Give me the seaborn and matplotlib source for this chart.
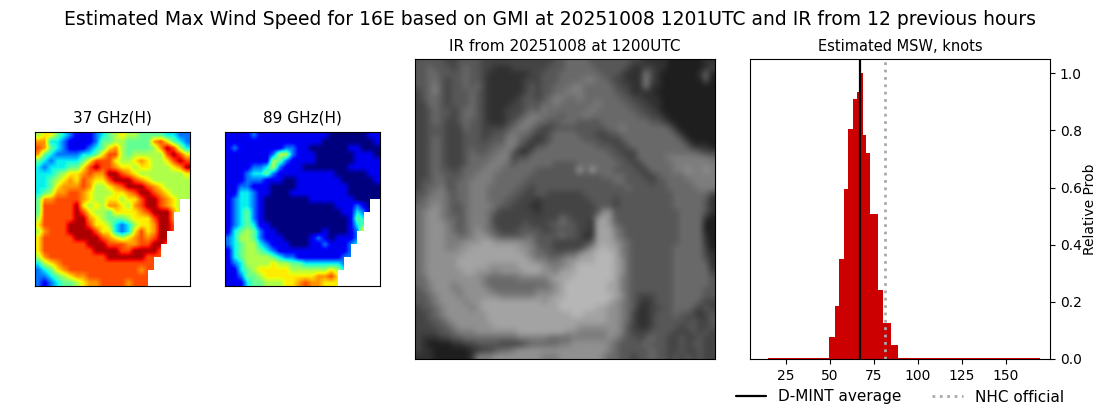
import matplotlib
matplotlib.use('Agg')
import matplotlib.pyplot as plt
import numpy as np
import seaborn as sns

# digit grids, '.' = no data
rows_37 = [
    "566432111234565544443322",
    "773321111244554444786432",
    "874321112346754444579853",
    "743222233468854555558986",
    "432333346888655676556898",
    "323334468988766566555679",
    "333456678779987655555556",
    "334567687668999876555555",
    "334677787556789998765555",
    "345778876555667899876555",
    "477888876556656689987655",
    "48888896565776578998765.",
    "48888898655466667899975.",
    "5888889976544456668997..",
    "6888899986653235667998..",
    "5788899998663236867998..",
    "688888999987656787899...",
    "688888889998887788998...",
    "68888888899998899998....",
    "57888888888999999888....",
    "3567888888888888888.....",
    "2346788888888888788.....",
    "223456778888888888......",
    "212344567788887888......",
]
rows_89 = [
    "111121111111111100000011",
    "111111111111111000000001",
    "121111111221100000011000",
    "111111125521110000001110",
    "111111154211110000001111",
    "111122352111000000011111",
    "111233421111111110000011",
    "111222111001111111000001",
    "112211100001111111100000",
    "113321100011111111100000",
    "123321000000011111110000",
    "12332100000000000111210.",
    "12342100000000000011320.",
    "1234210000000000000143..",
    "1234311000000000000134..",
    "1345421100000001000127..",
    "235542111000012101112...",
    "234553211100011211123...",
    "13455432111111111112....",
    "13455554322111111122....",
    "1235555655443333332.....",
    "1134566666555555653.....",
    "112445666666667786......",
    "111344555667877666......",
]
rows_ir = [
    "3333322333 3222222222 2223344443 3333332211 1100000011",
    "3343332343 3221112222 2233344444 3333321122 1100000012",
    "3344333343 3211111112 2333444444 4333211152 1000000140",
    "3344323343 3211111122 2333444455 4432211152 1000000030",
    "3345323343 4211111123 2334445544 4443221151 1000000000",
    "2345323334 3211111123 2334455544 4443321111 0000000000",
    "2344323334 3211111233 2345544544 4444332211 1000000000",
    "2244323334 3211112233 3445444444 5444433221 1000000000",
    "2234332344 3211122234 3544444445 4444443322 1000000000",
    "2234332344 3211122345 5444344454 4444444332 2100000000",
    "2234322343 3211123455 4433444333 3444444443 3210000000",
    "2233322243 3222234554 3223333333 3344544444 4431000000",
    "2233322233 3223345443 2234444333 2233444444 4443100000",
    "2234322233 3233355432 1234444433 3222344444 4444310000",
    "2234322233 3334455321 3344444444 3332234444 4444431110",
    "2234322234 3344553113 4444444444 4433222444 4444444322",
    "2234322234 4445552334 4444444444 4443322444 4455555554",
    "2234322234 4455543444 4443333444 4444332244 4445555555",
    "2234332344 4555444444 3333333737 4443333224 4445565565",
    "2234433344 5554444443 3333333333 3444433322 3444455555",
    "2334433445 5554444433 3333333333 3334433332 3344445555",
    "2344533445 5544444332 3333333333 3333343333 3344444555",
    "3345543445 5544443322 3322222233 3333333333 3334444442",
    "3455543445 5544433222 1222222223 3332333333 3334444431",
    "4456543345 5554332221 1222222222 3332333333 3334444431",
    "4566543345 5543222222 1222222222 3663333333 3333444431",
    "4566544345 5542222222 2222432222 6763333333 3333444410",
    "4566654345 5542222232 2233433221 7764333333 3333444400",
    "4566654345 6543222333 3223333221 7775433333 3333444400",
    "4566655445 6654333344 3333433211 7775433333 3333444410",
    "4566655566 6776666655 3332222223 7776543333 3333444410",
    "4566655667 7777777665 4332222246 7877543333 3334444420",
    "4566666677 7777777765 4433344677 8887543333 3334444421",
    "4566666777 7777777776 5544566777 8887643333 3334444431",
    "4566666777 7766666777 7655567888 8887643333 3334444441",
    "4566666677 6665666677 7665777888 8887643333 3334444442",
    "4466666666 6544444555 5567778888 8887543333 3334444443",
    "4456665666 6544444444 4456788888 8877543333 3334444443",
    "3456665566 6654444444 5556788888 8877543333 3334444433",
    "3345666566 6666555555 6667788888 8887643222 3334444433",
    "3345666656 6777777777 7677888888 8876543212 3334444322",
    "2334566665 6777777777 7777888888 7766543112 2334443232",
    "2234566666 6677777777 7777778877 7766542112 3334332123",
    "2233456666 6677777777 7777777777 7766542112 3333323223",
    "2223345666 6667777777 7777777666 6666532112 3333233223",
    "2222334555 6666666777 7777766555 5566532223 3332223232",
    "2111223344 4444444555 5544445555 5565433234 3322322322",
    "2100001122 3333222234 4444556666 6654333343 3322323322",
    "2110000001 1223445666 6666666666 6654333334 3322322322",
    "1110000001 5556666666 6555666666 6544332334 3323232322",
]

# histogram, knots
bin_edges = [14.7, 49.8, 52.7, 55.5, 57.8, 60.6, 62.9, 65.2, 66.9, 68.6, 70.8, 73.1, 77.1, 80.5, 84.5, 88.5, 169.5]
rel_prob = [0.004, 0.078, 0.186, 0.35, 0.595, 0.805, 0.91, 0.935, 1.0, 0.785, 0.72, 0.508, 0.24, 0.127, 0.05, 0.004]
dmint_avg = 67.0
nhc_official = 81.3

# position of each digit on the jet scale
jet_levels = [0.0, 0.1, 0.24, 0.36, 0.47, 0.56, 0.66, 0.75, 0.83, 0.96]


def to_grid(rows):
    return np.array([[np.nan if c == '.' else float(c) for c in r.replace(' ', '')] for r in rows])


def to_jet(rows):
    grid = to_grid(rows)
    return np.interp(grid, np.arange(10), jet_levels)


W, H = 1100, 409
def box(x0, y0, x1, y1):
    return [x0 / W, 1 - y1 / H, (x1 - x0) / W, (y1 - y0) / H]


sns.set_style("ticks")
plt.rcParams['font.family'] = ['DejaVu Sans']
plt.rcParams.update({'text.color': 'black', 'axes.labelcolor': 'black', 'axes.edgecolor': 'black',
                     'xtick.color': 'black', 'ytick.color': 'black',
                     'xtick.major.size': 3.5, 'ytick.major.size': 3.5,
                     'xtick.major.width': 0.8, 'ytick.major.width': 0.8})
fig = plt.figure(figsize=(11, 4.09), dpi=100)
fig.suptitle("Estimated Max Wind Speed for 16E based on GMI at 20251008 1201UTC and IR from 12 previous hours",
             fontsize=13.5, x=0.5, y=0.953, va='center')

ax1 = fig.add_axes(box(35, 132, 190, 286))
ax1.imshow(to_jet(rows_37), cmap='jet', vmin=0, vmax=1, aspect='auto', interpolation='bilinear')
ax1.set_title("37 GHz(H)", fontsize=11, pad=7)

ax2 = fig.add_axes(box(225, 132, 380, 286))
ax2.imshow(to_jet(rows_89), cmap='jet', vmin=0, vmax=1, aspect='auto', interpolation='bilinear')
ax2.set_title("89 GHz(H)", fontsize=11, pad=7)

ax3 = fig.add_axes(box(415, 59, 715, 359))
ax3.imshow(to_grid(rows_ir), cmap='gray', vmin=-1.58, vmax=11.84, aspect='auto', interpolation='bicubic')
ax3.set_title("IR from 20251008 at 1200UTC", fontsize=11, pad=6)

for ax in (ax1, ax2, ax3):
    ax.set_xticks([])
    ax.set_yticks([])

ax4 = fig.add_axes(box(750, 59, 1050, 359))
centers = [(a + b) / 2 for a, b in zip(bin_edges[:-1], bin_edges[1:])]
sns.histplot(x=centers, weights=rel_prob, bins=bin_edges, color='#cc0000', alpha=1, linewidth=0, ax=ax4)
ax4.axvline(dmint_avg, color='black', lw=1.6, label='D-MINT average')
ax4.axvline(nhc_official, color='#aaaaaa', lw=2, ls=':', label='NHC official')
ax4.set_xlim(4.66, 175.1)
ax4.set_ylim(0, 1.05)
ax4.set_xticks([25, 50, 75, 100, 125, 150])
ax4.yaxis.tick_right()
ax4.yaxis.set_label_position('right')
ax4.set_ylabel("Relative Prob", fontsize=10, labelpad=1)
ax4.set_xlabel("")
ax4.tick_params(labelsize=10)
ax4.set_title("Estimated MSW, knots", fontsize=10.5, pad=6)
for s in ax4.spines.values():
    s.set_visible(True)
    s.set_linewidth(0.8)
fig.legend(*ax4.get_legend_handles_labels(), ncol=2, frameon=False, fontsize=11,
           loc='center right', bbox_to_anchor=(1078 / W, 1 - 397 / H), columnspacing=2.0)

fig.savefig("out.png", dpi=100)
